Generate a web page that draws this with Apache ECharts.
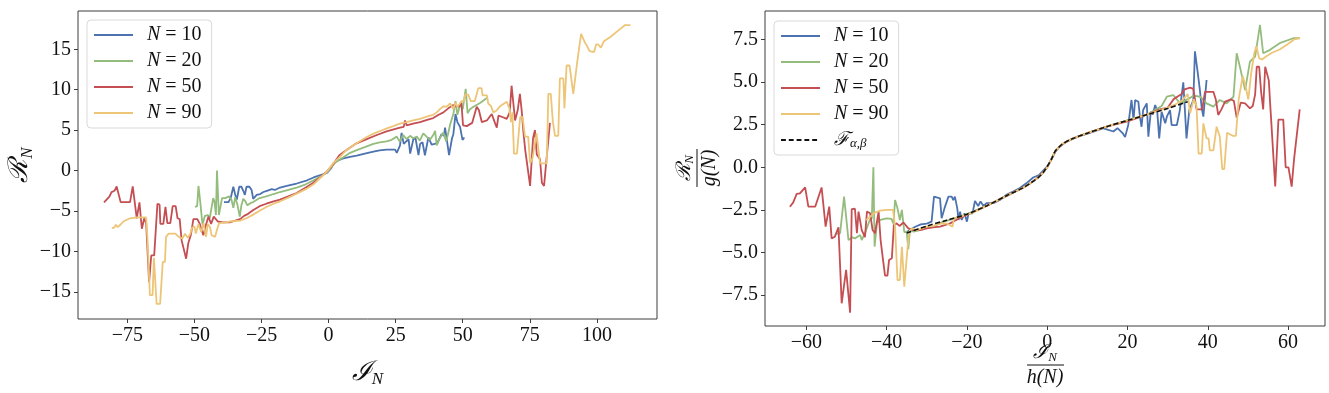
<!DOCTYPE html>
<html><head><meta charset="utf-8">
<script src="https://cdn.jsdelivr.net/npm/echarts@6/dist/echarts.min.js"></script>
<style>html,body{margin:0;padding:0;background:#fff}#c{width:1329px;height:393px}</style>
</head><body><div id="c"></div>
<script>
// ---------- tick labels ----------
const leftXTicks = [-75, -50, -25, 0, 25, 50, 75, 100];
const leftYTicks = [-15, -10, -5, 0, 5, 10, 15];
const rightXTicks = [-60, -40, -20, 0, 20, 40, 60];
const rightYTicks = [-7.5, -5.0, -2.5, 0.0, 2.5, 5.0, 7.5];
const seriesNames = ['N = 10', 'N = 20', 'N = 50', 'N = 90'];
const fitName = 'F';

// ---------- left panel: R_N vs I_N ----------
const leftN10 = [[-39.0,-3.9],[-37.3,-3.9],[-36.5,-3.4],[-35.5,-2.0],[-34.8,-3.0],[-34.2,-3.6],[-33.3,-2.0],[-32.5,-2.0],[-31.8,-2.5],[-31.2,-3.0],[-30.6,-2.0],[-29.5,-2.0],[-28.7,-2.4],[-28.1,-3.5],[-27.4,-3.5],[-26.8,-3.0],[-25.5,-2.9],[-24.3,-2.65],[-23.0,-2.5],[-21.2,-2.3],[-20.0,-2.4],[-18.1,-2.1],[-15.6,-1.9],[-11.9,-1.6],[-8,-1.2],[-5.6,-0.85],[-3,-0.55],[-0.6,-0.3],[1,0.3],[1.75,0.9],[3.5,1.25],[5.5,1.5],[8,1.7],[10.5,1.85],[13.5,2.1],[16.7,2.35],[19,2.5],[21.6,2.6],[24.8,2.6],[25.4,2.2],[26.6,3.1],[27.2,4.65],[28.0,3.3],[28.5,3.2],[29.8,3.9],[30.4,2.1],[31.6,3.9],[32.4,4.0],[33.5,1.9],[34.1,3.3],[35.0,3.5],[35.9,1.9],[37.2,4.1],[38.4,3.2],[39.5,3.3],[40.5,3.4],[42.1,4.5],[43.0,4.3],[43.4,5.3],[44.9,1.9],[46.0,4.0],[46.5,4.5],[47.3,7.0],[48.0,6.0],[49.0,5.4],[49.9,3.8],[50.6,4.1]];
const leftN20 = [[-49.8,-4.5],[-49.0,-4.4],[-48.5,-1.9],[-47.8,-4.0],[-47.0,-6.7],[-46.1,-5.6],[-45.0,-5.5],[-44.3,-5.9],[-43.0,-3.4],[-42.5,-3.9],[-42.0,-5.5],[-41.6,0.0],[-40.9,-5.5],[-40.2,-5.3],[-39.7,-3.4],[-38.5,-3.4],[-37.1,-3.2],[-36.2,-3.6],[-35.5,-4.6],[-34.8,-3.3],[-34.0,-4.2],[-33.1,-5.7],[-32.5,-4.3],[-31.8,-3.5],[-31.0,-3.8],[-30.3,-4.3],[-29.0,-4.0],[-28.1,-3.9],[-25.7,-3.4],[-23.2,-3.2],[-20.5,-2.9],[-18.1,-2.65],[-15,-2.4],[-11.9,-2.1],[-8.5,-1.7],[-5.6,-1.2],[-3,-0.75],[-0.6,-0.2],[1,0.4],[2.5,1.0],[5.5,1.65],[8,2.2],[10.5,2.54],[13.5,2.9],[16.7,3.3],[19,3.5],[21.6,3.6],[23.5,3.8],[25.4,4.2],[26.5,3.6],[27.8,4.4],[29.0,3.9],[30.4,4.3],[31.5,4.0],[32.9,4.2],[34.0,3.7],[35.3,4.6],[36.5,4.2],[37.8,3.8],[39.0,4.4],[39.7,4.9],[40.3,3.1],[41.3,3.9],[42.8,4.7],[43.8,3.6],[44.5,4.5],[45.3,5.7],[46.5,7.0],[47.3,8.6],[48.0,6.9],[49.0,8.1],[50.0,7.6],[51.1,10.1],[51.8,7.1],[52.7,7.6],[54.0,7.9],[56.6,8.4],[59.1,9.0]];
const leftN50 = [[-83.7,-3.93],[-81.7,-3.23],[-80.9,-2.66],[-79.8,-2.5],[-79.0,-1.96],[-77.5,-3.9],[-74.0,-3.9],[-73.0,-1.96],[-71.5,-5.9],[-70.5,-3.93],[-69.6,-7.2],[-68.7,-5.9],[-68.0,-6.5],[-66.9,-13.8],[-66.1,-10.5],[-65.0,-10.5],[-63.8,-4.1],[-63.0,-4.2],[-62.7,-6.6],[-61.6,-6.6],[-60.8,-4.5],[-60.1,-6.5],[-59.0,-6.5],[-58.1,-4.4],[-57.0,-4.4],[-56.3,-5.9],[-55.5,-6.0],[-54.8,-8.6],[-53.1,-10.9],[-52.3,-9.0],[-51.3,-7.9],[-50.4,-6.0],[-48.9,-6.0],[-48.0,-6.6],[-46.7,-8.0],[-45.7,-6.7],[-44.8,-5.7],[-43.8,-6.6],[-42.8,-5.7],[-41.3,-6.3],[-39.4,-6.4],[-36.9,-6.4],[-34.8,-6.2],[-33.0,-6.0],[-31.5,-5.6],[-30.0,-5.35],[-28.2,-4.9],[-25.7,-4.4],[-23.2,-4.1],[-20.5,-3.8],[-18.1,-3.6],[-15,-3.2],[-11.9,-2.77],[-8.5,-2.1],[-5.7,-1.5],[-3.2,-0.85],[-0.6,-0.1],[1.75,0.8],[4,1.9],[6.7,2.54],[10,3.3],[14.2,3.9],[18,4.4],[21.6,4.85],[26.6,5.3],[28.0,5.4],[28.5,6.2],[29.1,5.6],[31.5,5.8],[34.1,6.0],[37,6.3],[39.0,6.5],[41,6.9],[42.8,7.2],[44.6,7.7],[46.5,8.1],[48.5,7.9],[49.5,8.4],[50.1,5.6],[51.5,5.5],[53.5,5.9],[55.2,7.9],[56.0,7.5],[57.1,6.0],[59.0,6.2],[60.8,7.0],[62.0,5.9],[62.7,5.3],[63.3,6.8],[65.0,6.6],[66.4,6.4],[67.5,7.2],[68.2,10.5],[68.9,10.5],[69.5,6.2],[70.5,7.5],[71.3,9.5],[72.0,7.3],[72.6,4.8],[73.3,2.5],[75.1,-1.9],[76.2,4.0],[76.9,5.0],[77.6,2.0],[78.8,1.4],[79.5,-1.5],[80.3,-1.9],[81.3,1.7],[82.5,5.9]];
const leftN90 = [[-80.8,-7.1],[-80.0,-7.1],[-79.3,-6.7],[-78.6,-7.0],[-77.6,-6.7],[-76.5,-6.3],[-74.0,-5.9],[-71.5,-5.8],[-68.0,-5.8],[-67.5,-8.5],[-66.6,-15.4],[-65.6,-15.4],[-65.1,-10.8],[-64.6,-10.8],[-64.1,-16.5],[-62.8,-16.5],[-61.8,-11.3],[-61.0,-11.3],[-60.6,-8.2],[-59.6,-7.8],[-57.1,-7.8],[-55.9,-8.2],[-54.5,-8.4],[-53.5,-7.8],[-52.5,-8.3],[-51.5,-7.8],[-51.0,-7.1],[-50.0,-6.9],[-49.5,-7.8],[-48.5,-6.6],[-47.5,-7.6],[-46.6,-6.5],[-45.7,-8.2],[-45.0,-6.6],[-44.2,-7.0],[-43.6,-8.0],[-42.3,-8.2],[-41.5,-7.2],[-40.8,-6.5],[-38.1,-6.4],[-36.9,-6.3],[-33.0,-6.2],[-30.6,-5.9],[-28.1,-5.45],[-25.7,-4.96],[-23.2,-4.5],[-20.5,-4.1],[-18.1,-3.8],[-15,-3.35],[-11.9,-2.85],[-8.5,-2.3],[-5.6,-1.7],[-3.2,-0.92],[-0.5,-0.1],[1.75,0.92],[4.25,1.7],[6.5,2.5],[9.2,3.1],[11.5,3.6],[14.2,4.15],[17,4.6],[19.2,4.9],[21.5,5.2],[24.1,5.5],[26.5,5.8],[29.1,6.0],[31.5,6.2],[34.1,6.4],[36,6.6],[37.8,6.8],[39,6.9],[40.3,7.2],[41.5,7.6],[42.8,7.95],[44,7.9],[45.3,8.3],[46.5,7.6],[47.2,8.4],[48,7.9],[49.6,8.6],[50.5,8.6],[50.9,9.4],[52,9.4],[53,8.6],[54.5,8.6],[55.8,10.2],[57,10.2],[57.4,9.3],[59,9.3],[59.5,8.3],[60.5,8.0],[61.4,7.2],[62.5,7.4],[63.9,7.95],[66.4,8.5],[67.4,7.7],[68.0,6.0],[68.5,7.2],[69.1,2.1],[70.2,2.1],[71.4,6.6],[72.3,6.6],[73.2,4.2],[74.4,4.2],[75.1,0.9],[76.0,1.5],[77.5,4.6],[78.2,4.6],[78.8,0.9],[81.3,0.9],[81.9,9.5],[82.8,9.5],[83.6,6.0],[84.4,4.3],[85.6,4.3],[86.2,11.4],[87.5,11.4],[87.9,7.7],[88.7,13.0],[89.8,13.0],[91.2,9.5],[92.5,13],[94.1,16.9],[95.6,15.8],[96.5,15.3],[97.2,14.8],[98.1,14.7],[99.0,14.7],[99.7,15.6],[100.5,15.6],[101.5,15.2],[102.6,16.0],[104.9,16.5],[108.6,17.5],[110.5,18.0],[112.5,18.0]];

// ---------- right panel: R_N/g(N) vs I_N/h(N) ----------
const rightN10 = [[-35.0,-3.8],[-33,-3.5],[-31.5,-3.35],[-30.0,-3.3],[-28.8,-3.19],[-28.2,-1.72],[-26.7,-1.82],[-26.3,-2.99],[-25.6,-2.41],[-24.6,-1.72],[-23.8,-1.72],[-23.4,-1.92],[-23.0,-1.72],[-22.4,-2.41],[-22.1,-3.09],[-21.7,-2.6],[-21.3,-3.09],[-20.6,-2.7],[-20.0,-3.19],[-19.6,-2.7],[-18.6,-2.7],[-18.0,-1.97],[-17.2,-2.27],[-16.6,-2.0],[-15.9,-2.27],[-15.1,-2.1],[-13.4,-2.1],[-11.8,-1.92],[-10.2,-1.62],[-8.5,-1.42],[-6.9,-1.23],[-5.2,-0.94],[-3.5,-0.6],[-2,-0.45],[-1,-0.2],[0,0.05],[1,0.45],[2,0.9],[3,1.2],[4.8,1.5],[8.2,1.85],[11,2.05],[14.0,2.29],[16.5,2.1],[17.5,2.3],[18.9,1.97],[19.4,1.77],[20.2,2.5],[21.0,3.95],[21.5,2.78],[21.9,3.95],[22.7,3.85],[23.1,2.97],[23.5,2.38],[23.9,3.36],[24.8,3.75],[25.2,1.8],[25.8,3.26],[26.3,3.1],[26.9,3.66],[27.4,3.3],[27.9,1.7],[28.5,3.26],[29.4,2.58],[29.8,2.97],[30.6,3.36],[31.0,2.48],[32.3,2.48],[33.0,3.3],[33.9,4.98],[34.3,3.36],[34.7,1.7],[35.4,3.36],[36.4,3.95],[36.8,6.8],[37.4,5.73],[38.0,4.6],[38.5,3.46],[38.9,2.97],[39.3,4.05],[39.7,5.12]];
const rightN20 = [[-52.5,-3.9],[-51.6,-3.87],[-50.6,-1.72],[-49.5,-4.27],[-48.5,-4.1],[-47.9,-4.17],[-46.6,-3.97],[-46.2,-4.27],[-45.3,-3.8],[-44.2,-3.09],[-43.7,-3.0],[-43.3,0.0],[-43.0,-4.65],[-42.4,-3.28],[-41.6,-3.09],[-40.0,-2.99],[-38.8,-3.03],[-38.3,-3.3],[-37.9,-1.92],[-37.3,-2.4],[-36.7,-3.09],[-36.2,-2.5],[-35.6,-3.8],[-35.0,-3.78],[-34.6,-4.8],[-34.2,-3.68],[-33.3,-3.78],[-31.7,-3.68],[-30.0,-3.55],[-28.4,-3.48],[-26,-3.2],[-23,-3.0],[-20,-2.75],[-15,-2.25],[-10,-1.68],[-6,-1.2],[-4,-0.9],[-2,-0.55],[-1,-0.3],[0,0],[1,0.45],[2,0.95],[3,1.2],[4,1.4],[6,1.65],[10,2.0],[15,2.4],[20,2.75],[25,3.1],[28.5,3.6],[29.8,4.14],[31.4,4.24],[33.1,3.75],[35,4.0],[36.5,4.2],[38.1,4.14],[39.7,3.75],[41.4,3.56],[43.0,3.95],[44.7,3.75],[46.4,4.14],[47.2,6.69],[48.0,5.9],[49.3,4.53],[50.5,6.2],[51.8,6.5],[53.0,8.35],[53.8,6.69],[55.5,6.89],[57.9,7.28],[61.3,7.57],[62.9,7.57]];
const rightN50 = [[-64.1,-2.31],[-63.3,-2.07],[-62.4,-1.56],[-61.6,-1.53],[-60.3,-1.18],[-59.5,-2.31],[-57.8,-2.31],[-56.2,-1.18],[-55.2,-3.48],[-54.3,-2.31],[-53.7,-4.17],[-52.9,-4.07],[-52.0,-3.52],[-51.2,-7.98],[-50.1,-6.02],[-49.8,-5.92],[-49.1,-8.53],[-48.7,-2.46],[-47.9,-2.43],[-47.4,-3.87],[-47.0,-2.6],[-46.2,-3.68],[-45.4,-4.1],[-44.9,-2.6],[-44.1,-2.7],[-43.5,-3.68],[-42.9,-3.87],[-42.0,-2.6],[-41.5,-4.27],[-41.0,-5.24],[-40.4,-6.36],[-39.8,-6.36],[-39.4,-5.44],[-38.7,-5.34],[-38.2,-3.38],[-37.5,-3.29],[-36.8,-3.44],[-35.8,-3.24],[-34.6,-3.58],[-33.3,-3.68],[-31.7,-3.68],[-30.0,-3.58],[-28.4,-3.52],[-26.7,-3.48],[-24.2,-3.29],[-22,-3.0],[-20,-2.8],[-15,-2.25],[-10,-1.65],[-6,-1.2],[-4,-0.9],[-2,-0.55],[-1,-0.3],[0,0],[1,0.45],[2,0.95],[3,1.2],[4,1.4],[6,1.65],[10,2.0],[15,2.4],[20,2.7],[25,3.1],[28,3.4],[30,3.5],[31.5,4.0],[32.7,4.18],[33.5,4.3],[34.2,4.57],[35.6,4.67],[36.4,4.6],[37.2,3.4],[38.6,3.4],[39.3,4.43],[41.4,4.43],[42.0,3.98],[42.6,3.07],[43.4,3.4],[44.3,3.85],[45.8,3.98],[46.5,3.9],[47.2,2.91],[48.2,3.79],[49.3,3.75],[50.5,3.46],[51.2,3.6],[51.8,4.28],[52.2,5.9],[52.8,5.9],[53.3,4.4],[53.8,3.4],[54.3,5.9],[55.2,5.1],[55.6,3.5],[56.8,-1.13],[57.6,2.8],[58.8,2.8],[59.4,0.0],[60.1,0.0],[60.9,-1.13],[61.5,0.5],[62.9,3.4]];
const rightN90 = [[-45.1,-3.09],[-44.1,-2.9],[-42.9,-2.66],[-41.6,-2.54],[-40.0,-2.5],[-38.4,-2.5],[-37.9,-3.48],[-37.3,-6.61],[-36.7,-6.61],[-36.2,-4.66],[-35.6,-7.0],[-35.2,-7.0],[-34.8,-4.75],[-34.4,-3.78],[-33.7,-3.58],[-32.5,-3.68],[-31.2,-3.58],[-30.0,-3.48],[-28.5,-3.45],[-26.7,-3.29],[-25,-3.3],[-23.6,-3.48],[-23.2,-2.99],[-21,-2.85],[-18,-2.6],[-15,-2.25],[-10,-1.65],[-6,-1.2],[-4,-0.9],[-2,-0.55],[-1,-0.3],[0,0],[1,0.45],[2,0.95],[3,1.2],[4,1.4],[6,1.65],[10,2.0],[15,2.4],[20,2.75],[25,3.1],[30,3.5],[32,3.7],[33.5,3.9],[35.0,4.3],[35.6,3.17],[36.5,4.0],[37.2,3.6],[37.7,0.81],[38.5,0.81],[38.9,2.58],[39.7,1.7],[40.2,1.7],[40.5,0.99],[41.4,0.99],[42.2,2.38],[43.0,1.8],[43.6,-0.1],[44.1,-0.1],[44.8,2.03],[46.3,1.84],[47.0,1.84],[47.7,3.98],[48.7,5.35],[49.4,4.77],[50.1,3.98],[50.8,5.5],[51.6,6.72],[52.1,7.1],[52.8,6.4],[53.5,6.33],[54.5,6.5],[56.0,6.72],[57.9,6.91],[59.8,7.21],[61.5,7.5],[63.0,7.6]];
const rightFit = [[-35,-3.85],[-30,-3.45],[-25,-3.1],[-20,-2.75],[-15,-2.25],[-10,-1.65],[-6,-1.2],[-4,-0.9],[-2,-0.55],[-1,-0.3],[0,0.05],[1,0.45],[2,0.95],[3,1.2],[4,1.4],[6,1.65],[10,2.0],[15,2.4],[20,2.75],[25,3.1],[30,3.45],[35,3.85]];

// ---------- styling ----------
const colors = ['#4C72B0', '#94BC7C', '#C44E52', '#EDC577'];
const SERIF = "'Liberation Serif', 'DejaVu Serif', serif";
const MATH = "'DejaVu Serif', 'Liberation Serif', serif";
const AX = '#3d3d3d';
const minus = s => String(s).replace('-', '\u2212');
const SOLID_ICON = 'path://M0,0H40V2H0Z';
const DASH_ICON = 'path://M0,0H5V2H0Z M8,0H13V2H8Z M16,0H21V2H16Z M24,0H29V2H24Z M32,0H37V2H32Z M40,0H40.01V2H40Z';

const chart = echarts.init(document.getElementById('c'), null, {renderer: 'canvas'});

function axisCfg(grid, min, max, ticks, fmt, extra) {
  return Object.assign({
    type: 'value', gridIndex: grid, min: min, max: max,
    axisLine: {show: false, onZero: false},
    splitLine: {show: false},
    axisTick: {show: true, inside: false, length: 4, lineStyle: {color: AX, width: 1}, customValues: ticks},
    axisLabel: {show: true, customValues: ticks, formatter: fmt, fontFamily: SERIF, fontSize: 20, color: '#111', margin: 7}
  }, extra || {});
}
const richMath = {
  m: {fontFamily: MATH, fontSize: 27, color: '#111', fontStyle: 'italic'},
  s: {fontFamily: SERIF, fontSize: 17, color: '#111', fontStyle: 'italic', padding: [14, 0, 0, 0]}
};
const legendRich = {
  i: {fontFamily: SERIF, fontSize: 20, fontStyle: 'italic', color: '#111', lineHeight: 20},
  t: {fontFamily: SERIF, fontSize: 20, color: '#111', lineHeight: 20},
  f: {fontFamily: MATH, fontSize: 19, fontStyle: 'italic', color: '#111', lineHeight: 20},
  g: {fontFamily: SERIF, fontSize: 13, fontStyle: 'italic', color: '#111', lineHeight: 20, verticalAlign: 'bottom'}
};
function legendFmt(name) {
  if (name === fitName) return '{f|\u2131}{g|\u03B1,\u03B2}';
  return '{i|N}{t| = ' + name.split('= ')[1] + '}';
}
function legendCfg(left, top, names) {
  return {
    orient: 'vertical', left: left, top: top,
    data: names.map(n => ({name: n, icon: n === fitName ? DASH_ICON : SOLID_ICON})),
    itemWidth: 39, itemHeight: 2, itemGap: 6,
    padding: [5, 10, 5, 7],
    borderColor: '#d9d9d9', borderWidth: 1, borderRadius: 4,
    backgroundColor: 'rgba(255,255,255,0.85)',
    selectedMode: false,
    formatter: legendFmt,
    textStyle: {rich: legendRich, padding: [0, 0, 0, 9], lineHeight: 20}
  };
}
function lineSeries(name, data, color, xi, extra) {
  return Object.assign({
    name: name, type: 'line', xAxisIndex: xi, yAxisIndex: xi, data: data,
    symbol: 'none', showSymbol: false, silent: true,
    lineStyle: {width: 1.8, color: color}, itemStyle: {color: color}
  }, extra || {});
}
const subRich = {
  m: {fontFamily: MATH, fontSize: 20, fontStyle: 'italic', fill: '#111', color: '#111'},
  s: {fontFamily: SERIF, fontSize: 13, fontStyle: 'italic', fill: '#111', color: '#111', padding: [9, 0, 0, 0]}
};

const option = {
  animation: false,
  backgroundColor: '#ffffff',
  grid: [
    {left: 78, top: 11, width: 579, height: 330, show: true, borderColor: AX, borderWidth: 1, backgroundColor: 'transparent'},
    {left: 765, top: 11, width: 560, height: 315, show: true, borderColor: AX, borderWidth: 1, backgroundColor: 'transparent'}
  ],
  xAxis: [
    axisCfg(0, -93.4, 122.4, leftXTicks, v => minus(v), {
      name: '{m|\u2110}{s|N}', nameLocation: 'middle', nameGap: 38,
      nameTextStyle: {rich: richMath}
    }),
    axisCfg(1, -70.3, 69.2, rightXTicks, v => minus(v))
  ],
  yAxis: [
    axisCfg(0, -18.36, 19.74, leftYTicks, v => minus(v), {
      name: '{m|\u211B}{s|N}', nameLocation: 'middle', nameGap: 36, nameRotate: 90,
      nameTextStyle: {rich: richMath}
    }),
    axisCfg(1, -9.31, 9.17, rightYTicks, v => minus(Number(v).toFixed(1)))
  ],
  legend: [
    legendCfg(87, 20, seriesNames),
    legendCfg(774, 21, seriesNames.concat([fitName]))
  ],
  graphic: [
    // right x-axis title: I_N / h(N)
    {type: 'text', x: 1045, y: 353, style: {text: '{m|\u2110}{s|N}', rich: subRich, align: 'center', verticalAlign: 'middle'}},
    {type: 'line', shape: {x1: 1027, y1: 365, x2: 1064, y2: 365}, style: {stroke: '#111', lineWidth: 1}},
    {type: 'text', x: 1045, y: 378, style: {text: 'h(N)', font: 'italic 20px ' + SERIF, fill: '#111', align: 'center', verticalAlign: 'middle'}},
    // right y-axis title: R_N / g(N), rotated
    {type: 'group', x: 697, y: 168, rotation: Math.PI / 2, children: [
      {type: 'text', x: 0, y: -12, style: {text: '{m|\u211B}{s|N}', rich: subRich, align: 'center', verticalAlign: 'middle'}},
      {type: 'line', shape: {x1: -19, y1: 0, x2: 19, y2: 0}, style: {stroke: '#111', lineWidth: 1}},
      {type: 'text', x: 0, y: 13, style: {text: 'g(N)', font: 'italic 20px ' + SERIF, fill: '#111', align: 'center', verticalAlign: 'middle'}}
    ]}
  ],
  series: [
    lineSeries(seriesNames[0], leftN10, colors[0], 0),
    lineSeries(seriesNames[1], leftN20, colors[1], 0),
    lineSeries(seriesNames[2], leftN50, colors[2], 0),
    lineSeries(seriesNames[3], leftN90, colors[3], 0),
    lineSeries(seriesNames[0], rightN10, colors[0], 1),
    lineSeries(seriesNames[1], rightN20, colors[1], 1),
    lineSeries(seriesNames[2], rightN50, colors[2], 1),
    lineSeries(seriesNames[3], rightN90, colors[3], 1),
    lineSeries(fitName, rightFit, '#111', 1, {smooth: 0.3, lineStyle: {width: 1.6, color: '#111', type: [5, 2.5]}})
  ]
};
chart.setOption(option);
</script></body></html>
